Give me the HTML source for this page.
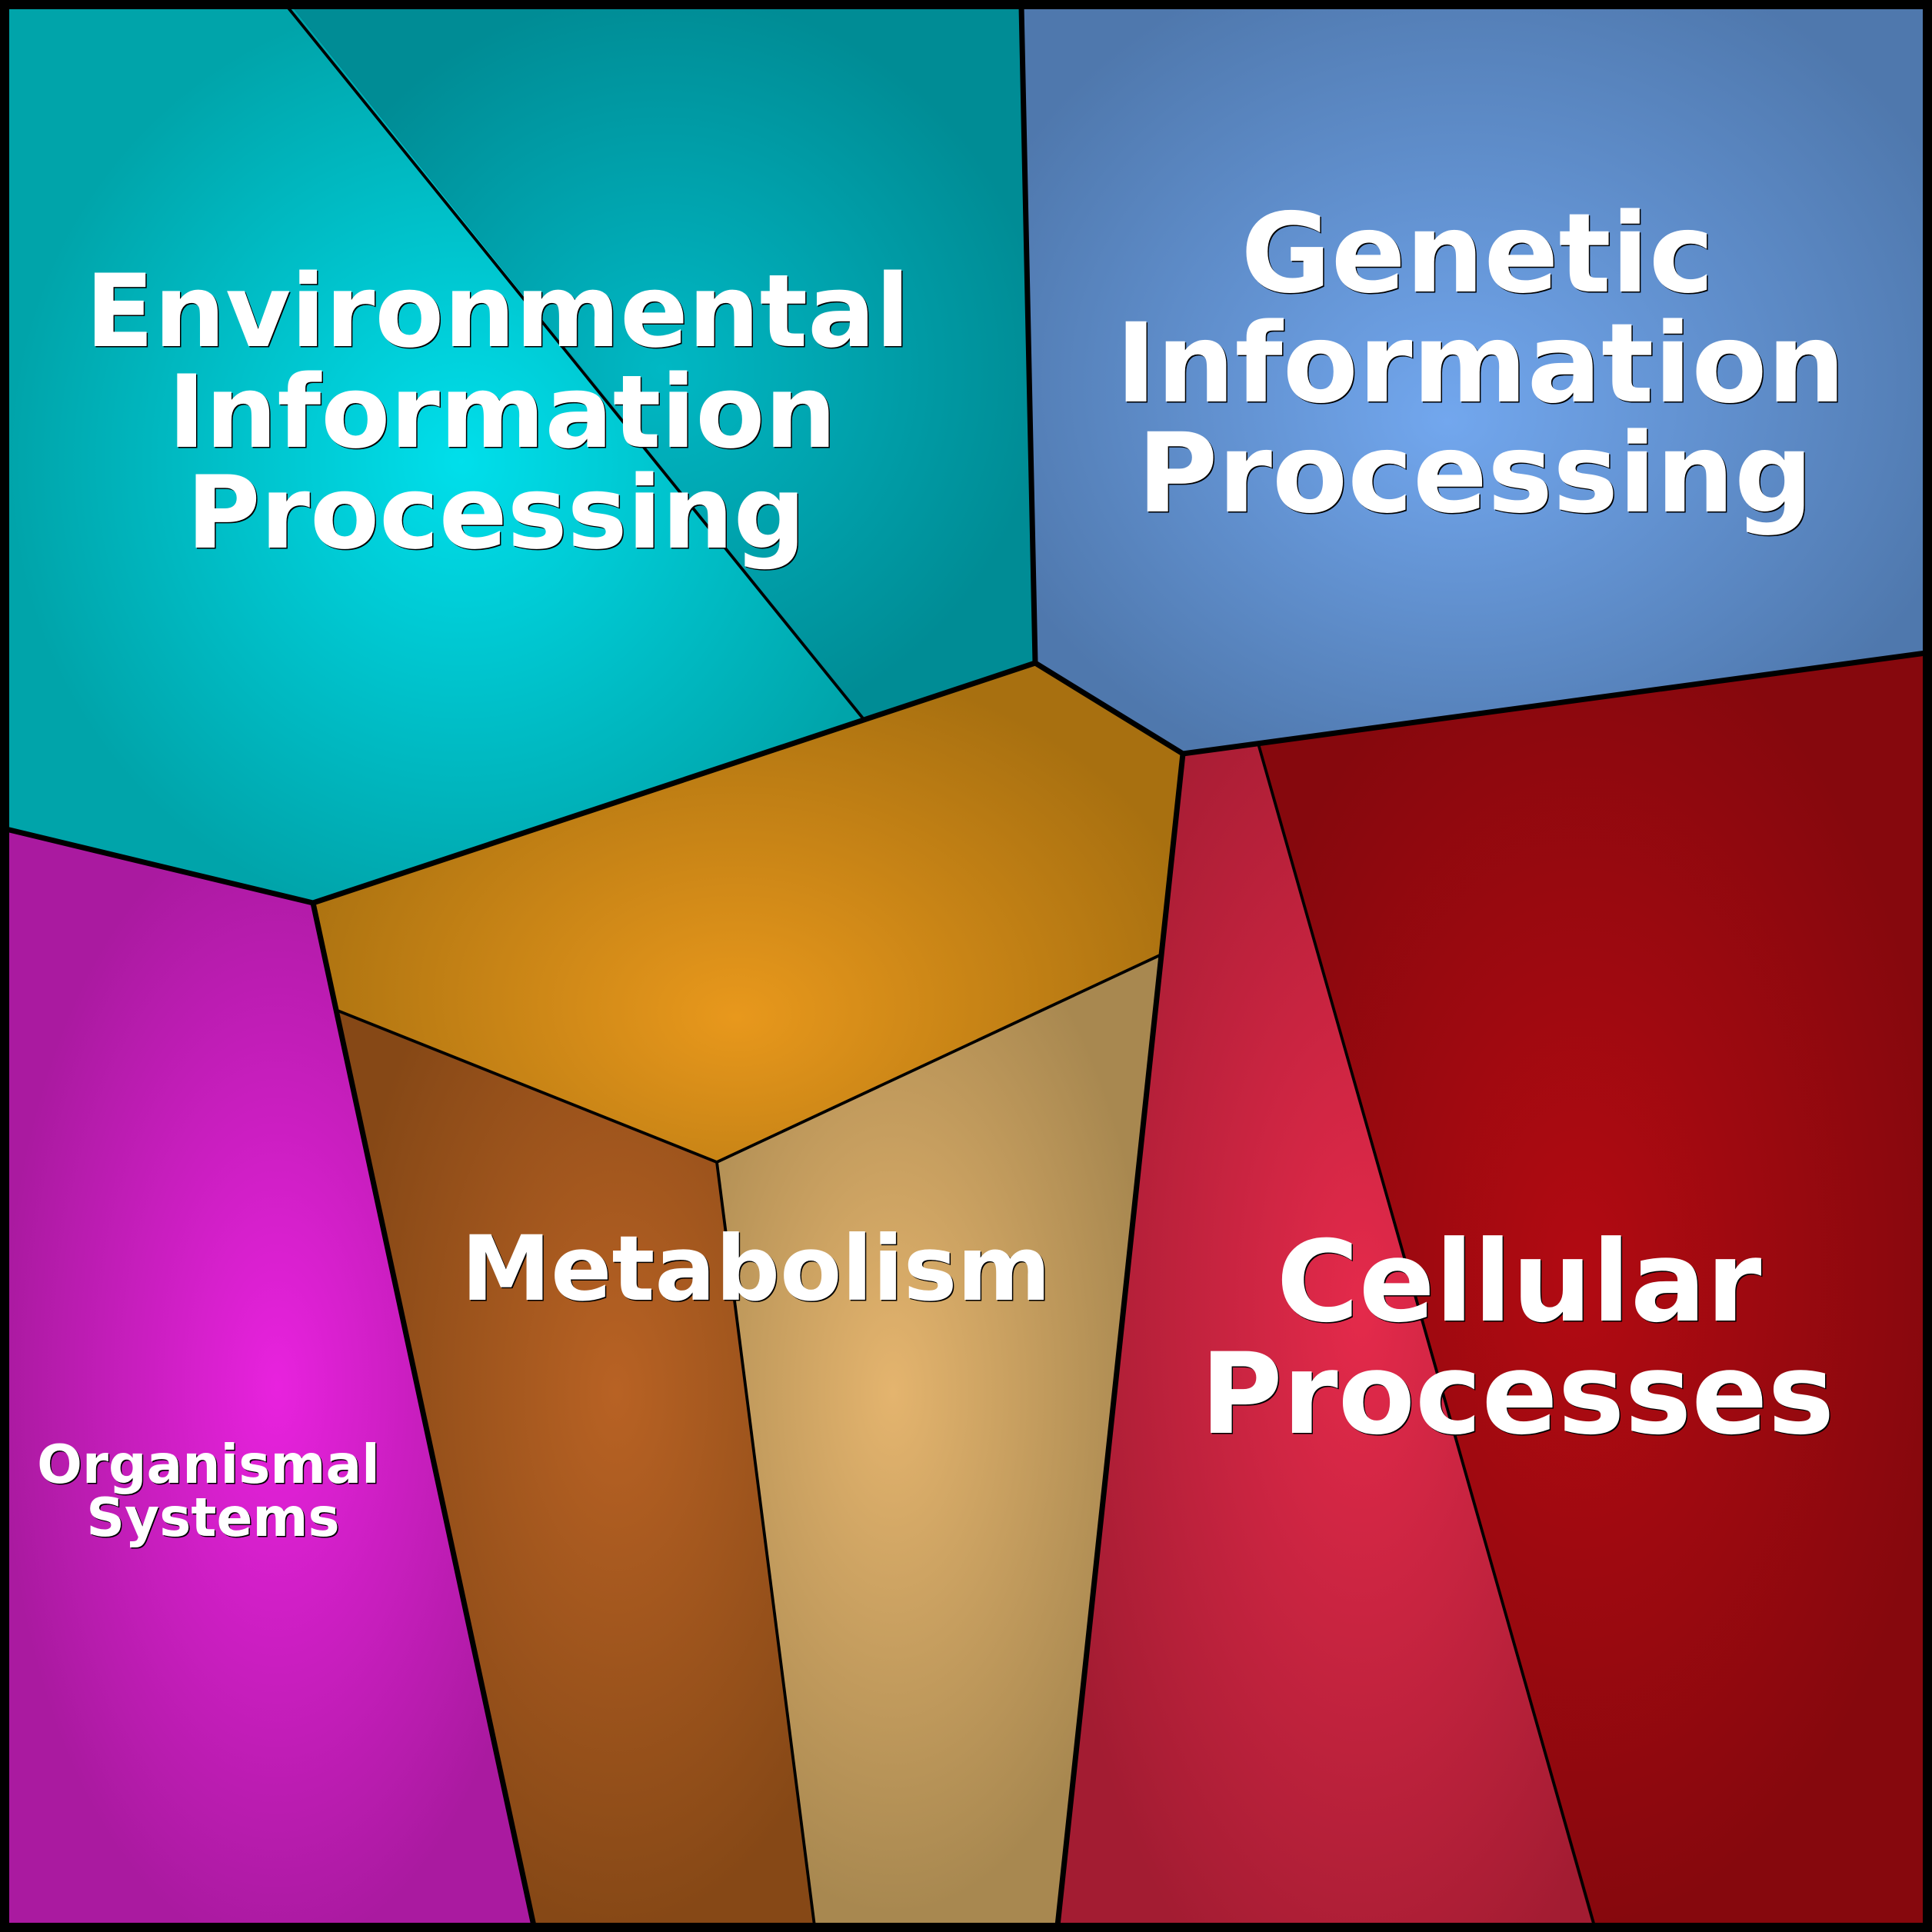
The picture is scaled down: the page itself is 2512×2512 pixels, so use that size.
<!DOCTYPE html>
<html><head><meta charset="utf-8"><style>
html,body{margin:0;padding:0;background:#000}
svg{display:block}
text{font-family:"DejaVu Sans","Liberation Sans",sans-serif;font-weight:700}
</style></head><body>
<svg xmlns="http://www.w3.org/2000/svg" width="2512" height="2512" viewBox="0 0 2512 2512">
<defs>
<radialGradient id="e1" gradientUnits="userSpaceOnUse" cx="0" cy="0" r="1" gradientTransform="translate(600,600) scale(590,610)"><stop offset="0" stop-color="#00dfeb"/><stop offset="1" stop-color="#00a4aa"/></radialGradient>
<radialGradient id="e2" gradientUnits="userSpaceOnUse" cx="0" cy="0" r="1" gradientTransform="translate(860,480) scale(500,490)"><stop offset="0" stop-color="#00b8c4"/><stop offset="1" stop-color="#008c95"/></radialGradient>
<radialGradient id="g" gradientUnits="userSpaceOnUse" cx="0" cy="0" r="1" fx="-0.05" fy="0.12" gradientTransform="translate(1916,480) scale(680,570)"><stop offset="0" stop-color="#72a7ee"/><stop offset="1" stop-color="#4f78ad"/></radialGradient>
<radialGradient id="c1" gradientUnits="userSpaceOnUse" cx="0" cy="0" r="1" gradientTransform="translate(1770,1700) scale(420,980)"><stop offset="0" stop-color="#e42a4b"/><stop offset="1" stop-color="#a31c32"/></radialGradient>
<radialGradient id="c2" gradientUnits="userSpaceOnUse" cx="0" cy="0" r="1" gradientTransform="translate(2055,1650) scale(480,860)"><stop offset="0" stop-color="#b20a12"/><stop offset="1" stop-color="#86080d"/></radialGradient>
<radialGradient id="o" gradientUnits="userSpaceOnUse" cx="0" cy="0" r="1" gradientTransform="translate(360,1802) scale(360,740)"><stop offset="0" stop-color="#e822de"/><stop offset="1" stop-color="#aa1aa0"/></radialGradient>
<radialGradient id="m" gradientUnits="userSpaceOnUse" cx="0" cy="0" r="1" fx="0" fy="0.1" gradientTransform="translate(957,1280) scale(620,430)"><stop offset="0" stop-color="#e8981c"/><stop offset="1" stop-color="#a87010"/></radialGradient>
<radialGradient id="b" gradientUnits="userSpaceOnUse" cx="0" cy="0" r="1" gradientTransform="translate(801,1810) scale(360,700)"><stop offset="0" stop-color="#b86224"/><stop offset="1" stop-color="#864816"/></radialGradient>
<radialGradient id="t" gradientUnits="userSpaceOnUse" cx="0" cy="0" r="1" gradientTransform="translate(1161,1810) scale(340,680)"><stop offset="0" stop-color="#e4b46e"/><stop offset="1" stop-color="#a88850"/></radialGradient>
</defs>
<rect width="2512" height="2512" fill="#000"/>
<polygon fill="url(#e1)" points="0,0 373,0 1122,934 407,1174 0,1076"/>
<polygon fill="url(#e2)" points="373,0 1328,0 1346,862 1122,934"/>
<polygon fill="url(#g)" points="1328,0 2512,0 2512,848 1538,980 1346,862"/>
<polygon fill="url(#c1)" points="1538,980 1636,967 2073,2512 1375,2512"/>
<polygon fill="url(#c2)" points="1636,967 2512,848 2512,2512 2073,2512"/>
<polygon fill="url(#o)" points="0,1076 407,1174 694,2512 0,2512"/>
<polygon fill="url(#m)" points="407,1174 1346,862 1538,980 1508,1242 932,1511 439,1314"/>
<polygon fill="url(#b)" points="439,1314 932,1511 1059,2512 694,2512"/>
<polygon fill="url(#t)" points="932,1511 1508,1242 1375,2512 1059,2512"/>
<g fill="none" stroke="#000" stroke-width="3.8">
<path d="M373,8 L1122,934"/>
<path d="M1636,967 L2073,2504"/>
<path d="M439,1314 L932,1511 L1508,1242"/>
<path d="M932,1511 L1059,2504"/>
</g>
<g fill="none" stroke="#000" stroke-width="7" stroke-linejoin="miter">
<path d="M1328,8 L1346,862 L1538,980 L2504,849"/>
<path d="M8,1078 L407,1174 L1346,862"/>
<path d="M407,1174 L694,2504"/>
<path d="M1538,980 L1375,2504"/>
</g>
<rect x="6" y="6" width="2500" height="2500" fill="none" stroke="#000" stroke-width="12"/>
<g fill="#000" transform="translate(1.5,1.5)">
<text font-size="131" x="111" y="450" textLength="1072" lengthAdjust="spacingAndGlyphs">Environmental</text>
<text font-size="131" text-anchor="middle" x="653" y="581">Information</text>
<text font-size="131" text-anchor="middle" x="645" y="712">Processing</text>
<text font-size="143" text-anchor="middle" x="1921" y="379">Genetic</text>
<text font-size="143" text-anchor="middle" x="1925" y="522">Information</text>
<text font-size="143" text-anchor="middle" x="1918" y="665">Processing</text>
<text font-size="146" text-anchor="middle" x="1975" y="1717">Cellular</text>
<text font-size="146" text-anchor="middle" x="1973" y="1863">Processes</text>
<text font-size="117" text-anchor="middle" x="983" y="1690">Metabolism</text>
<text font-size="69.2" text-anchor="middle" x="271" y="1928">Organismal</text>
<text font-size="69.2" text-anchor="middle" x="277" y="1997">Systems</text>
</g>
<g fill="#fff">
<text font-size="131" x="111" y="450" textLength="1072" lengthAdjust="spacingAndGlyphs">Environmental</text>
<text font-size="131" text-anchor="middle" x="653" y="581">Information</text>
<text font-size="131" text-anchor="middle" x="645" y="712">Processing</text>
<text font-size="143" text-anchor="middle" x="1921" y="379">Genetic</text>
<text font-size="143" text-anchor="middle" x="1925" y="522">Information</text>
<text font-size="143" text-anchor="middle" x="1918" y="665">Processing</text>
<text font-size="146" text-anchor="middle" x="1975" y="1717">Cellular</text>
<text font-size="146" text-anchor="middle" x="1973" y="1863">Processes</text>
<text font-size="117" text-anchor="middle" x="983" y="1690">Metabolism</text>
<text font-size="69.2" text-anchor="middle" x="271" y="1928">Organismal</text>
<text font-size="69.2" text-anchor="middle" x="277" y="1997">Systems</text>
</g>
</svg>
</body></html>
